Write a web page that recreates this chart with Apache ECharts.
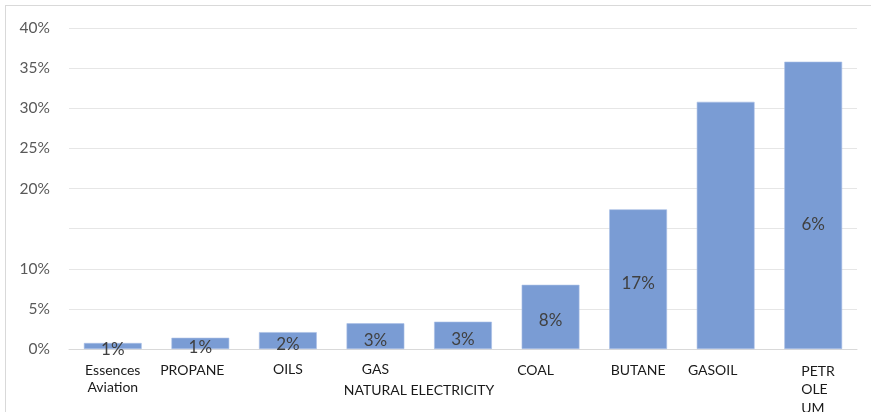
<!DOCTYPE html>
<html>
<head>
<meta charset="utf-8">
<script src="https://cdn.jsdelivr.net/npm/echarts@6/dist/echarts.min.js"></script>
<style>
html,body{margin:0;padding:0;background:#fff;}
#frame{position:absolute;left:5px;top:5px;width:900px;height:430px;border:1px solid #d9d9d9;}
#chart{position:absolute;left:0;top:0;width:871px;height:412px;}
</style>
</head>
<body>
<div id="frame"></div>
<div id="chart"></div>
<script>
const categories = ["Essences Aviation","PROPANE","OILS","GAS NATURAL","ELECTRICITY","COAL","BUTANE","GASOIL","PETROLEUM"];
const values = [0.75, 1.4, 2.1, 3.2, 3.4, 8.0, 17.4, 30.8, 35.8];
const barLabels = ["1%","1%","2%","3%","3%","8%","17%","","6%"];
const yTickValues = [0,5,10,20,25,30,35,40];

const axisLabelText = [
  "{b|Essences}\n{b|Aviation}",
  "{p|PROPANE}",
  "{o|OILS}",
  "{o|GAS}",
  "{sp|}\n{e|NATURAL ELECTRICITY}",
  "{c|COAL}",
  "{b|BUTANE}",
  "{g|GASOIL}",
  "{pe|PETR}\n{pe|OLE}\n{pe|UM}"
];

const chart = echarts.init(document.getElementById('chart'));
const FONT = 'Lato, "Open Sans", sans-serif';
const base = {fontFamily: FONT, fontSize: 14, color: '#1a1a1a', lineHeight: 17};
chart.setOption({
  animation: false,
  grid: {left: 69, right: 14, top: 28, bottom: 63, containLabel: false, outerBoundsMode: 'none'},
  xAxis: {
    type: 'category',
    data: categories,
    axisLine: {lineStyle: {color: '#d9d9d9'}},
    axisTick: {show: false},
    axisLabel: {
      interval: 0,
      margin: 13,
      formatter: (v, i) => axisLabelText[i],
      rich: {
        b: Object.assign({}, base),
        sp: Object.assign({}, base, {lineHeight: 20}),
        p: Object.assign({}, base, {padding: [0,16,0,0]}),
        o: Object.assign({}, base, {padding: [-3,0,0,0]}),
        e: Object.assign({}, base, {padding: [0,88,0,0]}),
        c: Object.assign({}, base, {padding: [0,30,0,0]}),
        g: Object.assign({}, base, {padding: [0,26,0,0]}),
        pe: Object.assign({}, base, {lineHeight: 18.5, width: 36, align: 'left', padding: [0,0,0,12]})
      }
    }
  },
  yAxis: {
    type: 'value',
    min: 0, max: 40, interval: 5,
    axisLine: {show: false},
    axisTick: {show: false},
    splitLine: {lineStyle: {color: '#e6e6e6'}},
    axisLabel: {
      margin: 19,
      fontFamily: FONT, fontSize: 15.5, color: '#595959',
      formatter: v => yTickValues.indexOf(v) >= 0 ? v + '%' : ''
    }
  },
  series: [{
    type: 'bar',
    barCategoryGap: '34%',
    itemStyle: {color: '#7a9cd4', borderColor: '#a9c0e6', borderWidth: 0.6},
    data: values.map((v, i) => i === 8 ? {value: v, label: {offset: [0, 19]}} : v),
    label: {
      show: true,
      position: 'inside',
      offset: [0, 4],
      fontFamily: FONT, fontSize: 17, color: '#404040',
      formatter: p => barLabels[p.dataIndex]
    }
  }]
});
</script>
</body>
</html>
